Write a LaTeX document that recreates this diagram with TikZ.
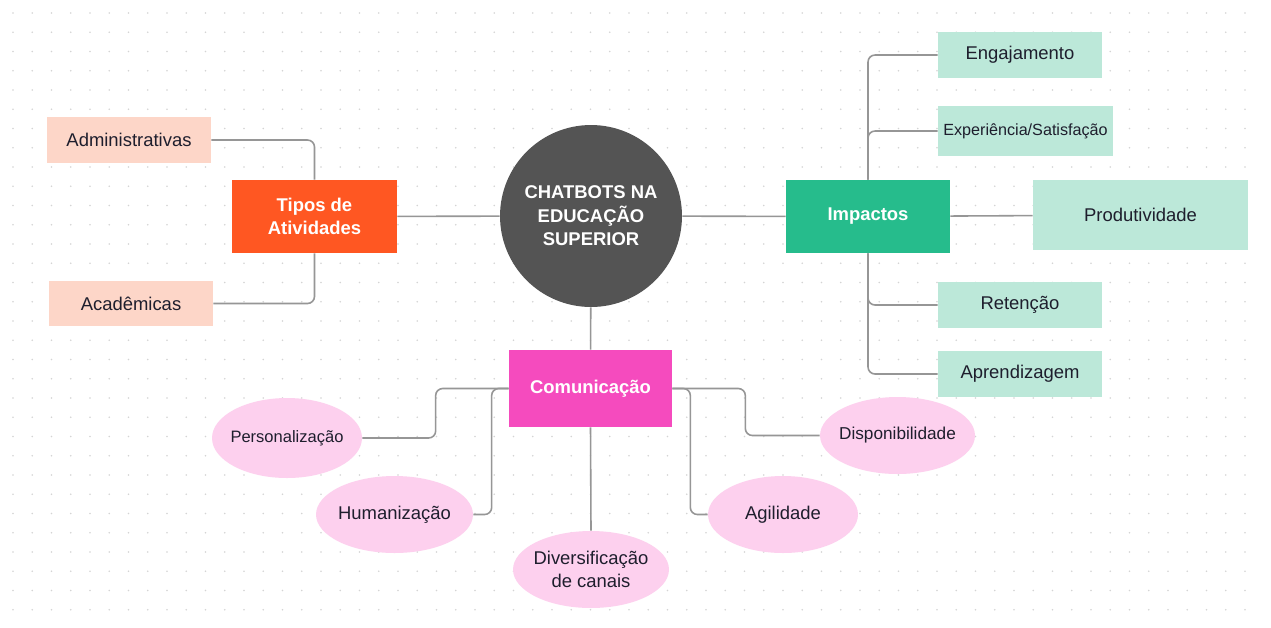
\documentclass[tikz,border=0pt]{standalone}
\usepackage{fontspec}
\setmainfont{Liberation Sans}
\usetikzlibrary{shapes.geometric}
\definecolor{pessego}{RGB}{253,214,200}
\definecolor{laranja}{RGB}{255,87,34}
\definecolor{cinzaesc}{RGB}{84,84,84}
\definecolor{verde}{RGB}{38,188,140}
\definecolor{menta}{RGB}{188,232,217}
\definecolor{magenta}{RGB}{245,75,190}
\definecolor{rosa}{RGB}{253,208,238}
\definecolor{linhacor}{RGB}{150,150,150}
\definecolor{textocor}{RGB}{30,30,45}
\begin{document}
\begin{tikzpicture}[x=0.02cm,y=-0.02cm,
  caixa/.style={rectangle, inner sep=0pt, align=center, text=textocor,
    font=\fontsize{10.5}{13}\selectfont},
  forte/.style={caixa, text=white, font=\bfseries\fontsize{10.5}{13}\selectfont},
  bolha/.style={ellipse, fill=rosa, inner xsep=-6pt, inner ysep=0pt, align=center, text=textocor,
    font=\fontsize{10.5}{13.5}\selectfont},
  linha/.style={draw=linhacor, line width=0.9pt, rounded corners=4pt}]
\useasboundingbox (0,0) rectangle (1271,627);
\fill[white] (0,0) rectangle (1271,627);
%pontos do fundo
\foreach \i in {0,...,64}
  \foreach \j in {0,...,31}
    \fill[black!17] (13+19.25*\i,13+19.25*\j) circle (0.55pt);
%centro
\node[circle, fill=cinzaesc, minimum size=3.64cm, inner sep=0pt, align=center,
  text=white, font=\bfseries\fontsize{10.5}{13.3}\selectfont] (centro) at (591,216)
  {CHATBOTS NA\\EDUCAÇÃO\\SUPERIOR};
%ramos
\node[forte, fill=laranja, minimum width=3.3cm, minimum height=1.46cm] (tipos) at (314.5,216.5) {Tipos de\\Atividades};
\node[forte, fill=verde, minimum width=3.28cm, minimum height=1.46cm] (impactos) at (868,216.5) {Impactos};
\node[forte, fill=magenta, minimum width=3.26cm, minimum height=1.54cm] (comunic) at (590.5,388.5) {Comunicação};
%tipos de atividades
\node[caixa, fill=pessego, minimum width=3.28cm, minimum height=0.92cm] (admin) at (129,140) {Administrativas};
\node[caixa, fill=pessego, minimum width=3.28cm, minimum height=0.9cm] (academ) at (131,303.5) {Acadêmicas};
%impactos
\node[caixa, fill=menta, minimum width=3.28cm, minimum height=0.92cm] (engaj) at (1020,55) {Engajamento};
\node[caixa, fill=menta, minimum width=3.5cm, minimum height=1cm, font=\fontsize{9.2}{11}\selectfont] (exper) at (1025.5,131) {Experiência/Satisfação};
\node[caixa, fill=menta, minimum width=4.3cm, minimum height=1.4cm] (produt) at (1140.5,215) {Produtividade};
\node[caixa, fill=menta, minimum width=3.28cm, minimum height=0.92cm] (retenc) at (1020,305) {Retenção};
\node[caixa, fill=menta, minimum width=3.28cm, minimum height=0.92cm] (aprend) at (1020,374) {Aprendizagem};
%comunicação
\node[bolha, minimum width=3cm, minimum height=1.6cm, font=\fontsize{9.4}{11}\selectfont] (person) at (287,438) {Personalização};
\node[bolha, minimum width=3.14cm, minimum height=1.54cm] (human) at (394.5,514.5) {Humanização};
\node[bolha, minimum width=3.12cm, minimum height=1.54cm] (divers) at (591,569.5) {Diversificação\\de canais};
\node[bolha, minimum width=3cm, minimum height=1.54cm] (agil) at (783,514.5) {Agilidade};
\node[bolha, minimum width=3.1cm, minimum height=1.54cm, font=\fontsize{9.8}{11}\selectfont] (dispon) at (897.5,435.5) {Disponibilidade};
%ligações
\draw[linha] (tipos) -- (centro);
\draw[linha] (centro) -- (impactos);
\draw[linha] (centro) -- (comunic);
\draw[linha] (admin.east) -| (tipos.north);
\draw[linha] (tipos.south) |- (academ.east);
\draw[linha] (impactos.north) |- (engaj.west);
\draw[linha] (impactos.north) |- (exper.west);
\draw[linha] (impactos) -- (produt);
\draw[linha] (impactos.south) |- (retenc.west);
\draw[linha] (impactos.south) |- (aprend.west);
\draw[linha] (comunic.west) -- ++(-73,0) |- (person.east);
\draw[linha] (comunic.west) -- ++(-17,0) |- (human.east);
\draw[linha] (comunic.south) -- (divers.north);
\draw[linha] (comunic.east) -- ++(18,0) |- (agil.west);
\draw[linha] (comunic.east) -- ++(73,0) |- (dispon.west);
\end{tikzpicture}
\end{document}
